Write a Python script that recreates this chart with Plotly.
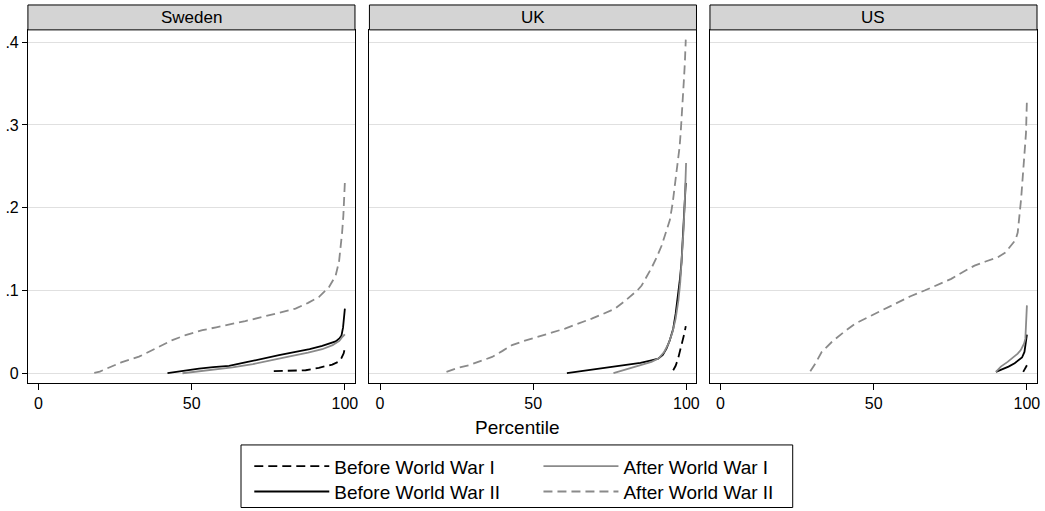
import plotly.graph_objects as go

# ---------------- data ----------------
countries = ["Sweden", "UK", "US"]
series_names = ["Before World War I", "Before World War II", "After World War I", "After World War II"]

# Sweden
swe_bww1_x = [76.8, 82.0, 87.2, 91.5, 95.9, 98.0, 98.9, 99.6, 100]
swe_bww1_y = [0.0025, 0.003, 0.0036, 0.0065, 0.0105, 0.014, 0.0185, 0.024, 0.030]
swe_bww2_x = [42.1, 47, 52.4, 57, 62.2, 67.5, 73, 78.5, 83.9, 88.5, 92.6, 95.5, 97.0, 98.2, 98.9, 99.4, 100]
swe_bww2_y = [0.0, 0.003, 0.0055, 0.0075, 0.009, 0.013, 0.0177, 0.0218, 0.0257, 0.029, 0.033, 0.0365, 0.0385, 0.042, 0.0457, 0.055, 0.078]
swe_aww1_x = [47, 52, 57, 63.3, 70, 76, 82, 88, 92.6, 96, 98.2, 99.2, 100]
swe_aww1_y = [0.0, 0.002, 0.0045, 0.007, 0.011, 0.016, 0.0205, 0.025, 0.029, 0.034, 0.039, 0.044, 0.047]
swe_aww2_x = [18.2, 20, 22.5, 27, 32.8, 38, 43.7, 48, 53.5, 58, 62.2, 67.5, 73.1, 78.5, 83.9, 88, 91.5,
              94.8, 97, 98.1, 98.6, 99.1, 99.5, 99.8, 100]
swe_aww2_y = [0.0005, 0.002, 0.006, 0.013, 0.020, 0.030, 0.040, 0.046, 0.052, 0.0555, 0.0586, 0.063, 0.068,
              0.073, 0.078, 0.085, 0.092, 0.104, 0.118, 0.135, 0.150, 0.170, 0.19, 0.21, 0.231]

# UK
uk_bww1_x = [95.7, 96.5, 97.3, 98.2, 98.9, 99.4, 99.8]
uk_bww1_y = [0.0036, 0.009, 0.0177, 0.0297, 0.040, 0.049, 0.057]
uk_bww2_x = [61, 65, 69.1, 75, 80, 85, 88.6, 90.8, 92.3, 93.5, 94.6, 95.7, 96.5, 97.3, 97.9, 98.4, 99.0, 99.5, 99.8]
uk_bww2_y = [0.0, 0.002, 0.0048, 0.0072, 0.0096, 0.0125, 0.0156, 0.0175, 0.022, 0.0297, 0.040, 0.0538,
             0.072, 0.094, 0.114, 0.134, 0.174, 0.206, 0.230]
uk_aww1_x = [76.2, 80, 84, 88.6, 91.0, 92.8, 94.2, 95.5, 96.5, 97.4, 98.0, 98.6, 99.1, 99.5, 99.9]
uk_aww1_y = [0.0, 0.004, 0.008, 0.0137, 0.018, 0.026, 0.036, 0.05, 0.066, 0.088, 0.11, 0.14, 0.175, 0.21, 0.254]
uk_aww2_x = [21.7, 25, 29, 33, 36.6, 40, 43.1, 47, 51.8, 56, 60.4, 65, 69.1, 72.9, 76.7, 79.5, 82.1, 84,
             85.4, 87, 88.6, 90.3, 91.9, 93.3, 94.6, 95.5, 96.2, 96.8, 97.3, 97.8, 98.2, 98.6, 98.9, 99.2,
             99.5, 99.8]
uk_aww2_y = [0.0016, 0.006, 0.0096, 0.015, 0.0197, 0.027, 0.034, 0.039, 0.044, 0.049, 0.054, 0.060, 0.066,
             0.0718, 0.078, 0.086, 0.094, 0.100, 0.106, 0.116, 0.127, 0.140, 0.154, 0.170, 0.185, 0.205,
             0.226, 0.240, 0.254, 0.274, 0.294, 0.314, 0.335, 0.355, 0.375, 0.403]

# US
us_bww1_x = [98.8, 99.4, 100]
us_bww1_y = [0.0017, 0.005, 0.0096]
us_bww2_x = [89.9, 92, 94, 96, 97.5, 98.4, 99.2, 99.6, 100]
us_bww2_y = [0.0017, 0.0045, 0.0080, 0.0120, 0.0157, 0.019, 0.0257, 0.035, 0.0466]
us_aww1_x = [89.9, 91.5, 93.7, 95.5, 97.0, 98.0, 98.6, 99.1, 99.5, 99.7, 99.9, 100]
us_aww1_y = [0.0016, 0.008, 0.0137, 0.019, 0.0237, 0.028, 0.0318, 0.036, 0.0418, 0.055, 0.066, 0.082]
us_aww2_x = [29.3, 31, 33, 36.3, 40, 43.9, 49.3, 53, 57.9, 62, 66.6, 71, 75.3, 79, 82.9, 86.5, 90.5, 93,
             94.8, 96.3, 97, 97.6, 98.1, 98.5, 98.9, 99.3, 99.7, 100]
us_aww2_y = [0.0024, 0.012, 0.0257, 0.0377, 0.049, 0.0598, 0.0698, 0.0765, 0.0858, 0.093, 0.0999, 0.107,
             0.114, 0.122, 0.130, 0.135, 0.140, 0.146, 0.154, 0.161, 0.17, 0.19, 0.21, 0.23, 0.25, 0.27,
             0.29, 0.33]

y_tickvals = [0, 0.1, 0.2, 0.3, 0.4]
y_ticktext = ["0", ".1", ".2", ".3", ".4"]
x_tickvals = [0, 50, 100]
x_ticktext = ["0", "50", "100"]
x_title = "Percentile"

panel_data = {
    "Sweden": [(swe_bww1_x, swe_bww1_y), (swe_bww2_x, swe_bww2_y), (swe_aww1_x, swe_aww1_y), (swe_aww2_x, swe_aww2_y)],
    "UK": [(uk_bww1_x, uk_bww1_y), (uk_bww2_x, uk_bww2_y), (uk_aww1_x, uk_aww1_y), (uk_aww2_x, uk_aww2_y)],
    "US": [(us_bww1_x, us_bww1_y), (us_bww2_x, us_bww2_y), (us_aww1_x, us_aww1_y), (us_aww2_x, us_aww2_y)],
}

# ---------------- style ----------------
W, H = 1045, 511
FONT = "Arial, Liberation Sans, Helvetica, sans-serif"
GRAY = "#8a8a8a"
styles = [
    dict(color="black", width=1.8, dash="9px,5px"),
    dict(color="black", width=1.8, dash="solid"),
    dict(color=GRAY, width=1.8, dash="solid"),
    dict(color=GRAY, width=1.8, dash="9px,5px"),
]
# one legend per entry so each row/column can be placed like the reference
legend_ids = ["legend", "legend2", "legend3", "legend4"]
legend_pos = [(250, 449), (250, 474.5), (540, 449), (540, 474.5)]

panel_px = [(28, 356), (370.5, 698.5), (712, 1040)]
top_px, bottom_px, head_top_px = 30, 384.5, 5
x_range = [-3.45, 103.3]
y_range = [-0.0118, 0.4148]

def px_x(p):
    return p / W

def px_y(p):
    return 1 - p / H

fig = go.Figure()
for i, c in enumerate(countries):
    ax = "" if i == 0 else str(i + 1)
    for j, (xs, ys) in enumerate(panel_data[c]):
        fig.add_trace(go.Scatter(
            x=xs, y=ys, mode="lines", name=series_names[j],
            line=styles[j], xaxis="x" + ax, yaxis="y" + ax,
            showlegend=(i == 0), legendgroup=series_names[j],
            legend=legend_ids[j], hoverinfo="skip",
        ))

layout = dict(
    width=W, height=H,
    margin=dict(l=0, r=0, t=0, b=0),
    paper_bgcolor="white", plot_bgcolor="white",
    font=dict(family=FONT, size=16, color="black"),
    showlegend=True,
)
shapes = []
annotations = []
for i, c in enumerate(countries):
    ax = "" if i == 0 else str(i + 1)
    x0, x1 = panel_px[i]
    layout["xaxis" + ax] = dict(
        domain=[px_x(x0), px_x(x1)], range=x_range, anchor="y" + ax,
        tickvals=x_tickvals, ticktext=x_ticktext, ticks="outside", ticklen=6,
        tickcolor="black", tickwidth=1, showgrid=False, zeroline=False,
        showline=True, mirror=True, linecolor="black", linewidth=1,
        tickfont=dict(size=16), fixedrange=True,
    )
    layout["yaxis" + ax] = dict(
        domain=[px_y(bottom_px), px_y(top_px)], range=y_range, anchor="x" + ax,
        tickvals=y_tickvals, ticktext=y_ticktext,
        ticks="outside" if i == 0 else "", ticklen=5, tickcolor="black", tickwidth=1,
        showticklabels=(i == 0), showgrid=True, gridcolor="#e0e0e0", gridwidth=1.2,
        zeroline=False, showline=True, mirror=True, linecolor="black", linewidth=1,
        tickfont=dict(size=16), fixedrange=True,
    )
    # header strip
    shapes.append(dict(type="rect", xref="paper", yref="paper",
                       x0=px_x(x0), x1=px_x(x1), y0=px_y(top_px), y1=px_y(head_top_px),
                       fillcolor="#d4d4d4", line=dict(color="black", width=1), layer="above"))
    annotations.append(dict(text=c, xref="paper", yref="paper",
                            x=px_x((x0 + x1) / 2), y=px_y((top_px + head_top_px) / 2),
                            xanchor="center", yanchor="middle", showarrow=False,
                            font=dict(size=17, color="black")))

# x-axis title
annotations.append(dict(text=x_title, xref="paper", yref="paper", x=px_x(518.5), y=px_y(429),
                        xanchor="center", yanchor="middle", showarrow=False,
                        font=dict(size=19, color="black")))
# legend frame
shapes.append(dict(type="rect", xref="paper", yref="paper",
                   x0=px_x(241.7), x1=px_x(795), y0=px_y(509.5), y1=px_y(446.7),
                   fillcolor="rgba(0,0,0,0)", line=dict(color="black", width=1)))

layout["shapes"] = shapes
layout["annotations"] = annotations
for lid, (lx, ly) in zip(legend_ids, legend_pos):
    layout[lid] = dict(x=px_x(lx), y=px_y(ly), xanchor="left", yanchor="top",
                       orientation="v", bgcolor="rgba(0,0,0,0)", borderwidth=0,
                       font=dict(size=19), itemwidth=75, tracegroupgap=0)
fig.update_layout(**layout)

# drop the page's default 8px body margin so the fixed-size figure sits at the window's corner
page_fix = ("var s=document.documentElement.style, b=document.body.style;"
            "s.margin='0'; s.padding='0'; s.overflow='hidden';"
            "b.margin='0'; b.padding='0'; b.overflow='hidden';")
fig.write_html("out.html", post_script=page_fix, config={"displayModeBar": False})
